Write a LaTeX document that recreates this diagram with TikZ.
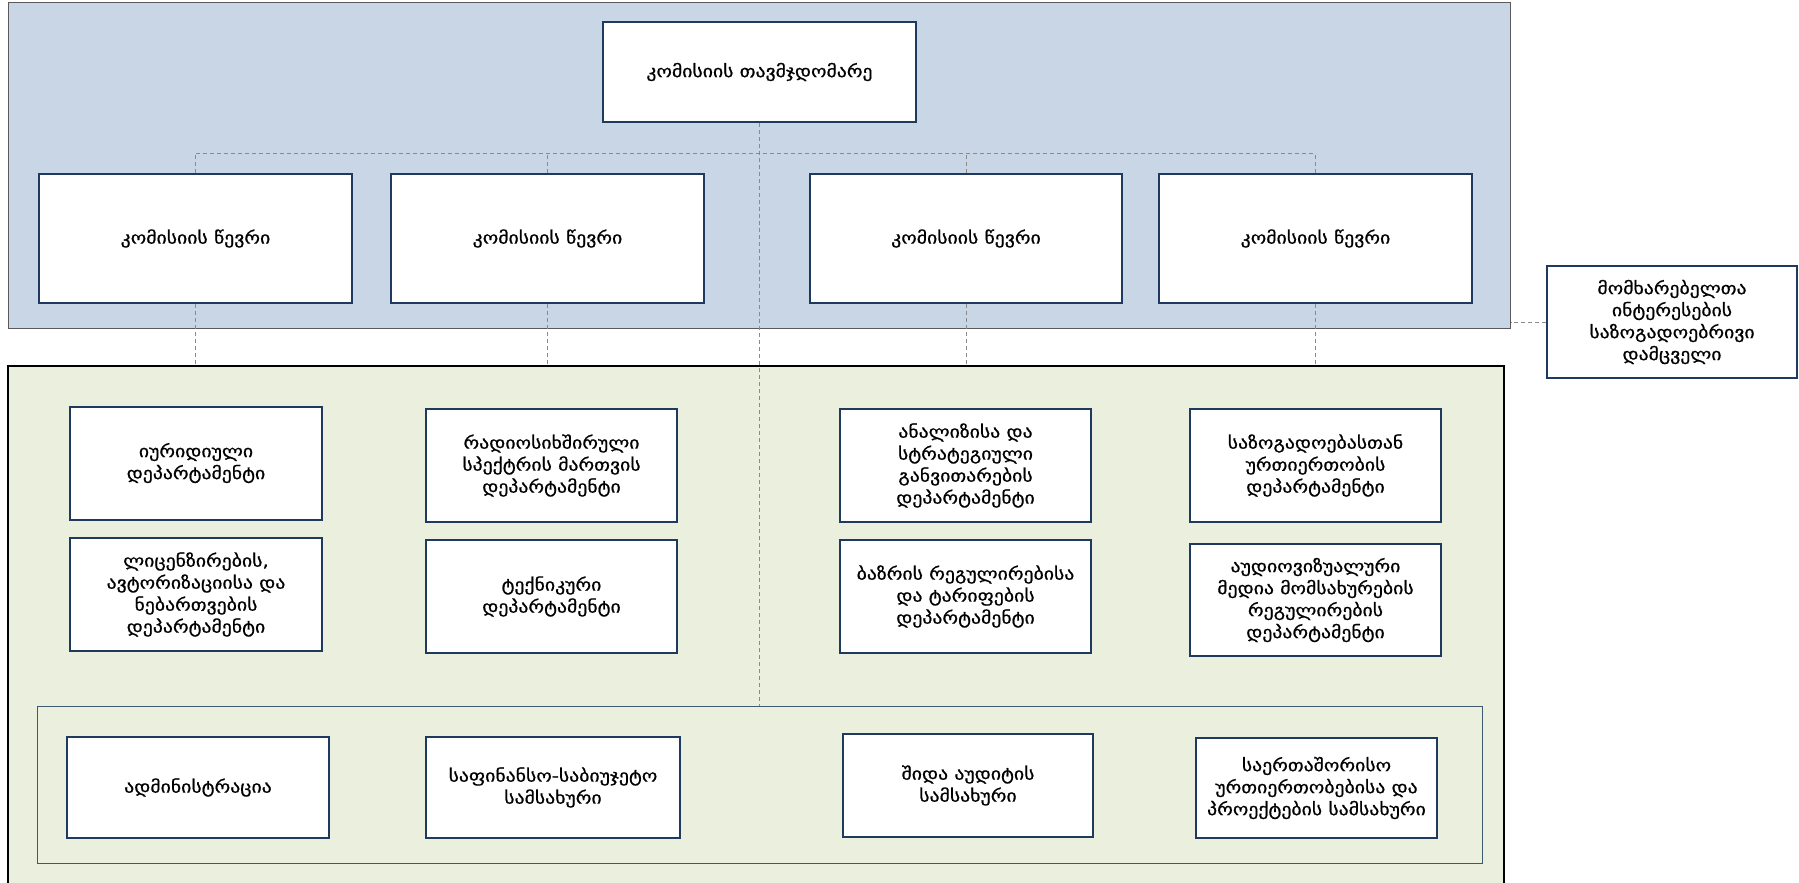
\documentclass[tikz,border=0pt]{standalone}
\usepackage{fontspec}
\newfontfamily\geo[FakeBold=0.8,FakeStretch=1.16]{DejaVu Sans}
\definecolor{bluefill}{HTML}{C9D6E6}
\definecolor{greenfill}{HTML}{EBEFDE}
\definecolor{navy}{HTML}{1F3A5F}
\definecolor{dashgray}{HTML}{8A8A8A}
\definecolor{framegray}{HTML}{5A5A5A}
\definecolor{innerline}{HTML}{3F5A70}
\tikzset{
  box/.style={draw=navy, line width=2pt, fill=white, align=center, inner sep=0pt,
    font=\geo\fontsize{17}{22}\selectfont},
  conn/.style={draw=dashgray, line width=1pt, dash pattern=on 4pt off 3pt}
}
\begin{document}
\begin{tikzpicture}[x=1pt,y=-1pt]
\useasboundingbox (0,0) rectangle (1799,883);
\begin{scope}
\clip (0,0) rectangle (1799,883);
% regions
\node[draw=framegray, line width=1pt, fill=bluefill, inner sep=0pt, minimum width=1502pt, minimum height=325pt] (blue) at (759,165.5) {};
\node[draw=black, line width=2pt, fill=greenfill, inner sep=0pt, minimum width=1496pt, minimum height=528pt] (green) at (756,630) {};
\node[draw=innerline, line width=1pt, inner sep=0pt, minimum width=1445pt, minimum height=157pt] (inner) at (759.5,784.5) {};
\coordinate (bus) at (759,153);

% chairman and members
\node[box, minimum width=313pt, minimum height=100pt] (ch) at (759.5,72) {კომისიის თავმჯდომარე};
\node[box, minimum width=313pt, minimum height=129pt] (m1) at (195.5,238.5) {კომისიის წევრი};
\node[box, minimum width=313pt, minimum height=129pt] (m2) at (547.5,238.5) {კომისიის წევრი};
\node[box, minimum width=312pt, minimum height=129pt] (m3) at (966,238.5) {კომისიის წევრი};
\node[box, minimum width=313pt, minimum height=129pt] (m4) at (1315.5,238.5) {კომისიის წევრი};
\node[box, minimum width=250pt, minimum height=112pt] (cons) at (1672,322) {მომხარებელთა\\ინტერესების\\საზოგადოებრივი\\დამცველი};

% departments
\node[box, minimum width=252pt, minimum height=113pt] (a1) at (196,463) {იურიდიული\\დეპარტამენტი};
\node[box, minimum width=252pt, minimum height=113pt] (a2) at (196,594.5) {ლიცენზირების,\\ავტორიზაციისა და\\ნებართვების\\დეპარტამენტი};
\node[box, minimum width=251pt, minimum height=113pt] (b1) at (551.5,465.5) {რადიოსიხშირული\\სპექტრის მართვის\\დეპარტამენტი};
\node[box, minimum width=251pt, minimum height=113pt] (b2) at (551.5,596.5) {ტექნიკური\\დეპარტამენტი};
\node[box, minimum width=251pt, minimum height=113pt] (c1) at (965.5,465.5) {ანალიზისა და\\სტრატეგიული\\განვითარების\\დეპარტამენტი};
\node[box, minimum width=251pt, minimum height=113pt] (c2) at (965.5,596.5) {ბაზრის რეგულირებისა\\და ტარიფების\\დეპარტამენტი};
\node[box, minimum width=251pt, minimum height=113pt] (d1) at (1315.5,465.5) {საზოგადოებასთან\\ურთიერთობის\\დეპარტამენტი};
\node[box, minimum width=251pt, minimum height=112pt] (d2) at (1315.5,600) {აუდიოვიზუალური\\მედია მომსახურების\\რეგულირების\\დეპარტამენტი};

% services
\node[box, minimum width=262pt, minimum height=101pt] (e1) at (198,787.5) {ადმინისტრაცია};
\node[box, minimum width=254pt, minimum height=101pt] (e2) at (553,787.5) {საფინანსო-საბიუჯეტო\\სამსახური};
\node[box, minimum width=250pt, minimum height=103pt] (e3) at (968,785.5) {შიდა აუდიტის\\სამსახური};
\node[box, minimum width=241pt, minimum height=100pt] (e4) at (1316.5,788) {საერთაშორისო\\ურთიერთობებისა და\\პროექტების სამსახური};

% connectors
\draw[conn] (ch.south) -- (ch.south |- inner.north);
\draw[conn] (m1.north |- bus) -- (m4.north |- bus);
\foreach \m in {m1,m2,m3,m4} {
  \draw[conn] (\m.north) -- (\m.north |- bus);
  \draw[conn] (\m.south) -- (\m.south |- green.north);
}
\draw[conn] (cons.west) -- (cons.west -| blue.east);
\end{scope}
\end{tikzpicture}
\end{document}
